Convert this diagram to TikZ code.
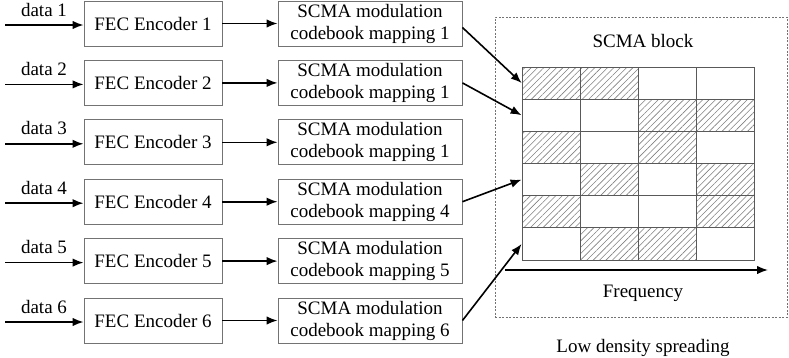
\documentclass[tikz,border=0pt]{standalone}
\usepackage{fontspec}
\setmainfont{Liberation Serif}
\usetikzlibrary{arrows.meta,patterns.meta}
\begin{document}
\begin{tikzpicture}[x=1pt,y=-1pt,
  font=\fontsize{19}{22}\selectfont,
  box/.style={draw=black!55,line width=0.9pt,inner sep=0pt,minimum height=45pt},
  fec/.style={box,minimum width=138pt},
  scma/.style={box,minimum width=184pt,align=center},
  arr/.style={line width=1.6pt,-{Latex[length=11pt,width=8.5pt]}},
  cell/.style={draw=black!65,line width=0.8pt,minimum width=58pt,minimum height=32.17pt,inner sep=0pt},
  hatch0/.style={},
  hatch1/.style={pattern={Lines[angle=45,distance=4.5pt,line width=0.6pt]},pattern color=black!50},
  lbl/.style={anchor=base,inner sep=0pt}
]
\useasboundingbox (0,0) rectangle (789,357);

% dashed block
\node[draw=black!55,dash pattern=on 2pt off 1.5pt,line width=0.7pt,
      minimum width=292pt,minimum height=300pt,inner sep=0pt] (blk) at (641,167) {};
\node[lbl] (blkl) at (643,47) {SCMA block};

% grid
\foreach \r/\a/\b in {1/1/2,2/3/4,3/1/3,4/2/4,5/1/4,6/2/3} {
  \foreach \c in {1,...,4} {
    \pgfmathsetmacro\xx{522+58*(\c-0.5)}
    \pgfmathsetmacro\yy{67+32.17*(\r-0.5)}
    \pgfmathtruncatemacro\h{(\c==\a)||(\c==\b)}
    \node[cell,hatch\h] (c-\r-\c) at (\xx,\yy) {};
  }
}

% frequency axis
\coordinate (fa) at (505,270);
\coordinate (fb) at (768,270);
\draw[arr] (fa) -- (fb);
\node[lbl] (freq) at (643,297) {Frequency};
\node[lbl] (lds) at (643,352) {Low density spreading};

% rows
\foreach \i/\m in {1/1,2/1,3/1,4/4,5/5,6/6} {
  \pgfmathsetmacro\yy{23.5+59.4*(\i-1)}
  \node[fec] (f\i) at (153,\yy) {FEC Encoder \i};
  \node[scma] (s\i) at (370,\yy) {SCMA modulation\\codebook mapping \m};
  \coordinate (d\i) at (5,\yy+1.5);
  \draw[arr] (d\i) -- (f\i.west |- d\i);
  \node[lbl] (l\i) at (44,\yy-7.5) {data \i};
  \draw[arr] (f\i) -- (s\i);
}

% connections to grid
\draw[arr] ([yshift=-4pt]s1.east) -- (c-1-1.west);
\draw[arr] (s2.east) -- (c-2-1.west);
\draw[arr] (s4.east) -- (c-4-1.west);
\draw[arr] (s6.east) -- (c-6-1.west);
\end{tikzpicture}
\end{document}
